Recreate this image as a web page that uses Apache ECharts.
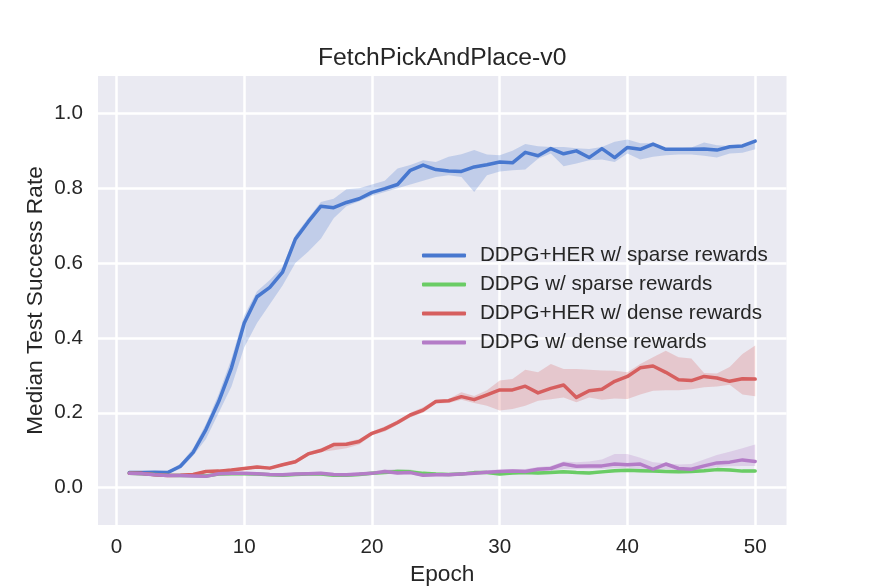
<!DOCTYPE html>
<html>
<head>
<meta charset="utf-8">
<script src="https://cdn.jsdelivr.net/npm/echarts@6/dist/echarts.min.js"></script>
<style>
  html, body { margin: 0; padding: 0; background: #fff; }
  #chart { width: 873px; height: 586px; }
</style>
</head>
<body>
<div id="chart"></div>
<script>
// epochs 1..50
const epochs = [1,2,3,4,5,6,7,8,9,10,11,12,13,14,15,16,17,18,19,20,21,22,23,24,25,26,27,28,29,30,31,32,33,34,35,36,37,38,39,40,41,42,43,44,45,46,47,48,49,50]

const herSparse = [0.040,0.040,0.041,0.040,0.057,0.094,0.155,0.230,0.320,0.440,0.510,0.535,0.576,0.664,0.710,0.752,0.748,0.762,0.772,0.789,0.799,0.810,0.848,0.862,0.850,0.846,0.845,0.857,0.863,0.870,0.868,0.896,0.887,0.906,0.892,0.900,0.882,0.906,0.882,0.909,0.904,0.918,0.904,0.904,0.904,0.905,0.902,0.911,0.913,0.926]
const herSparseLo = [0.036,0.037,0.038,0.038,0.050,0.085,0.130,0.200,0.270,0.375,0.440,0.490,0.540,0.600,0.630,0.665,0.720,0.752,0.765,0.780,0.790,0.800,0.810,0.820,0.830,0.835,0.830,0.790,0.835,0.845,0.848,0.850,0.879,0.893,0.859,0.866,0.875,0.877,0.870,0.893,0.877,0.884,0.888,0.890,0.890,0.887,0.882,0.893,0.895,0.904]
const herSparseHi = [0.043,0.043,0.044,0.043,0.064,0.105,0.170,0.250,0.345,0.460,0.525,0.555,0.590,0.675,0.720,0.763,0.772,0.797,0.800,0.810,0.820,0.853,0.862,0.875,0.870,0.884,0.891,0.902,0.890,0.888,0.900,0.918,0.912,0.910,0.910,0.907,0.905,0.910,0.924,0.930,0.920,0.920,0.907,0.907,0.909,0.922,0.915,0.913,0.915,0.928]

const ddpgSparse = [0.038,0.037,0.035,0.033,0.032,0.032,0.031,0.036,0.037,0.037,0.036,0.034,0.033,0.035,0.036,0.036,0.033,0.033,0.035,0.038,0.040,0.043,0.042,0.038,0.036,0.035,0.036,0.040,0.040,0.036,0.039,0.040,0.039,0.040,0.042,0.040,0.039,0.042,0.045,0.046,0.045,0.044,0.043,0.042,0.043,0.045,0.048,0.047,0.044,0.044]
const ddpgSparseLo = [0.034,0.033,0.031,0.029,0.028,0.028,0.027,0.032,0.033,0.033,0.032,0.030,0.029,0.031,0.032,0.032,0.029,0.029,0.031,0.034,0.036,0.038,0.037,0.034,0.032,0.031,0.032,0.036,0.036,0.032,0.035,0.036,0.035,0.036,0.038,0.036,0.035,0.038,0.041,0.042,0.041,0.040,0.039,0.038,0.039,0.041,0.044,0.043,0.040,0.040]
const ddpgSparseHi = [0.042,0.041,0.039,0.037,0.036,0.036,0.035,0.040,0.041,0.041,0.040,0.038,0.037,0.039,0.040,0.040,0.037,0.037,0.039,0.042,0.045,0.049,0.048,0.042,0.040,0.039,0.040,0.044,0.044,0.040,0.043,0.044,0.043,0.044,0.046,0.044,0.043,0.046,0.049,0.050,0.049,0.048,0.047,0.046,0.047,0.049,0.052,0.051,0.048,0.048]

const herDense = [0.038,0.038,0.034,0.032,0.033,0.035,0.043,0.044,0.047,0.051,0.055,0.052,0.061,0.069,0.090,0.099,0.115,0.116,0.123,0.145,0.157,0.174,0.194,0.207,0.230,0.232,0.243,0.235,0.248,0.261,0.261,0.271,0.253,0.265,0.274,0.241,0.259,0.263,0.284,0.297,0.320,0.325,0.308,0.288,0.286,0.297,0.293,0.284,0.291,0.290]
const herDenseLo = [0.034,0.034,0.030,0.028,0.029,0.031,0.039,0.040,0.043,0.047,0.051,0.048,0.057,0.064,0.085,0.095,0.100,0.105,0.115,0.140,0.150,0.168,0.188,0.200,0.225,0.226,0.235,0.226,0.219,0.206,0.210,0.219,0.232,0.236,0.241,0.228,0.241,0.235,0.238,0.237,0.249,0.259,0.260,0.260,0.263,0.268,0.270,0.275,0.249,0.244]
const herDenseHi = [0.042,0.042,0.038,0.036,0.037,0.039,0.047,0.048,0.051,0.055,0.059,0.056,0.065,0.074,0.095,0.105,0.120,0.122,0.130,0.150,0.163,0.180,0.200,0.215,0.235,0.237,0.255,0.245,0.260,0.286,0.290,0.315,0.308,0.330,0.317,0.317,0.315,0.313,0.312,0.308,0.330,0.348,0.366,0.348,0.345,0.306,0.305,0.322,0.357,0.380]

const ddpgDense = [0.038,0.037,0.034,0.032,0.032,0.031,0.030,0.037,0.038,0.038,0.037,0.035,0.034,0.036,0.037,0.038,0.035,0.034,0.036,0.038,0.043,0.039,0.040,0.033,0.034,0.034,0.036,0.038,0.041,0.043,0.044,0.043,0.049,0.051,0.063,0.057,0.058,0.058,0.063,0.061,0.063,0.049,0.063,0.051,0.049,0.058,0.066,0.068,0.074,0.070]
const ddpgDenseLo = [0.034,0.033,0.030,0.028,0.028,0.027,0.026,0.033,0.034,0.034,0.033,0.031,0.030,0.032,0.033,0.034,0.031,0.030,0.032,0.034,0.038,0.035,0.036,0.029,0.030,0.030,0.032,0.034,0.037,0.039,0.040,0.040,0.043,0.045,0.050,0.050,0.050,0.050,0.052,0.052,0.050,0.045,0.050,0.046,0.046,0.050,0.055,0.057,0.058,0.058]
const ddpgDenseHi = [0.042,0.041,0.038,0.036,0.036,0.035,0.034,0.041,0.042,0.042,0.041,0.039,0.038,0.040,0.041,0.042,0.039,0.038,0.040,0.043,0.048,0.048,0.047,0.038,0.039,0.039,0.041,0.043,0.046,0.048,0.050,0.050,0.055,0.058,0.070,0.068,0.070,0.075,0.090,0.090,0.080,0.068,0.065,0.062,0.063,0.075,0.087,0.096,0.105,0.115]

const names = ['DDPG+HER w/ sparse rewards', 'DDPG w/ sparse rewards', 'DDPG+HER w/ dense rewards', 'DDPG w/ dense rewards']
const colors = ['#4878CF', '#6ACC65', '#D65F5F', '#B47CC7']
const bands = ['rgba(72,120,207,0.25)', 'rgba(106,204,101,0.25)', 'rgba(214,95,95,0.25)', 'rgba(180,124,199,0.25)']
const runs = [
	[herSparse, herSparseLo, herSparseHi],
	[ddpgSparse, ddpgSparseLo, ddpgSparseHi],
	[herDense, herDenseLo, herDenseHi],
	[ddpgDense, ddpgDenseLo, ddpgDenseHi],
]

const font = "'Liberation Sans', Arial, sans-serif"
const textColor = '#262626'

const series = []
runs.forEach(([mean, lo, hi], k) => {
	// shaded band between lo and hi, drawn as one polygon through the axes
	series.push({
		type: 'custom',
		name: 'band' + k,
		silent: true,
		data: [epochs[0]],
		renderItem: (params, api) => {
			const top = epochs.map((e, i) => api.coord([e, hi[i]]))
			const bottom = epochs.map((e, i) => api.coord([e, lo[i]])).reverse()
			return {
				type: 'polygon',
				shape: { points: top.concat(bottom) },
				style: { fill: bands[k] },
			}
		},
	})
	series.push({
		type: 'line',
		name: names[k],
		data: epochs.map((e, i) => [e, mean[i]]),
		symbol: 'none',
		color: colors[k],
		lineStyle: { width: 3.5, color: colors[k], cap: 'round', join: 'round' },
	})
})

const chart = echarts.init(document.getElementById('chart'), null, { renderer: 'canvas' })
chart.setOption({
	backgroundColor: '#ffffff',
	animation: false,
	title: {
		text: 'FetchPickAndPlace-v0',
		left: 318,
		top: 46,
		padding: 0,
		textStyle: { fontFamily: font, fontSize: 24.7, fontWeight: 'normal', color: textColor },
	},
	grid: {
		left: 98,
		right: 86.5,
		top: 76,
		bottom: 61,
		containLabel: false,
		outerBoundsMode: 'none',
		show: true,
		backgroundColor: '#EAEAF2',
		borderWidth: 0,
	},
	legend: {
		data: names,
		orient: 'vertical',
		left: 422,
		top: 245,
		padding: 0,
		itemGap: 8,
		itemWidth: 44,
		itemHeight: 4,
		icon: 'roundRect',
		textStyle: { fontFamily: font, fontSize: 20.6, color: textColor, padding: [0, 0, 0, 9] },
	},
	xAxis: {
		type: 'value',
		min: -1.45,
		max: 52.45,
		name: 'Epoch',
		nameLocation: 'middle',
		nameGap: 38,
		nameMoveOverlap: false,
		nameTextStyle: { fontFamily: font, fontSize: 22.7, color: textColor },
		axisLine: { show: false },
		axisTick: { show: false },
		axisLabel: {
			margin: 12,
			showMinLabel: false,
			showMaxLabel: false,
			fontFamily: font,
			fontSize: 20.6,
			color: textColor,
		},
		splitLine: { show: true, showMinLine: false, showMaxLine: false, lineStyle: { color: '#ffffff', width: 2.5 } },
	},
	yAxis: {
		type: 'value',
		min: -0.1,
		max: 1.1,
		name: 'Median Test Success Rate',
		nameLocation: 'middle',
		nameGap: 51,
		nameMoveOverlap: false,
		nameTextStyle: { fontFamily: font, fontSize: 22.7, color: textColor },
		axisLine: { show: false },
		axisTick: { show: false },
		axisLabel: {
			margin: 15,
			showMinLabel: false,
			showMaxLabel: false,
			fontFamily: font,
			fontSize: 20.6,
			color: textColor,
			formatter: v => v.toFixed(1),
		},
		splitLine: { show: true, showMinLine: false, showMaxLine: false, lineStyle: { color: '#ffffff', width: 2.5 } },
	},
	series: series,
})
</script>
</body>
</html>
